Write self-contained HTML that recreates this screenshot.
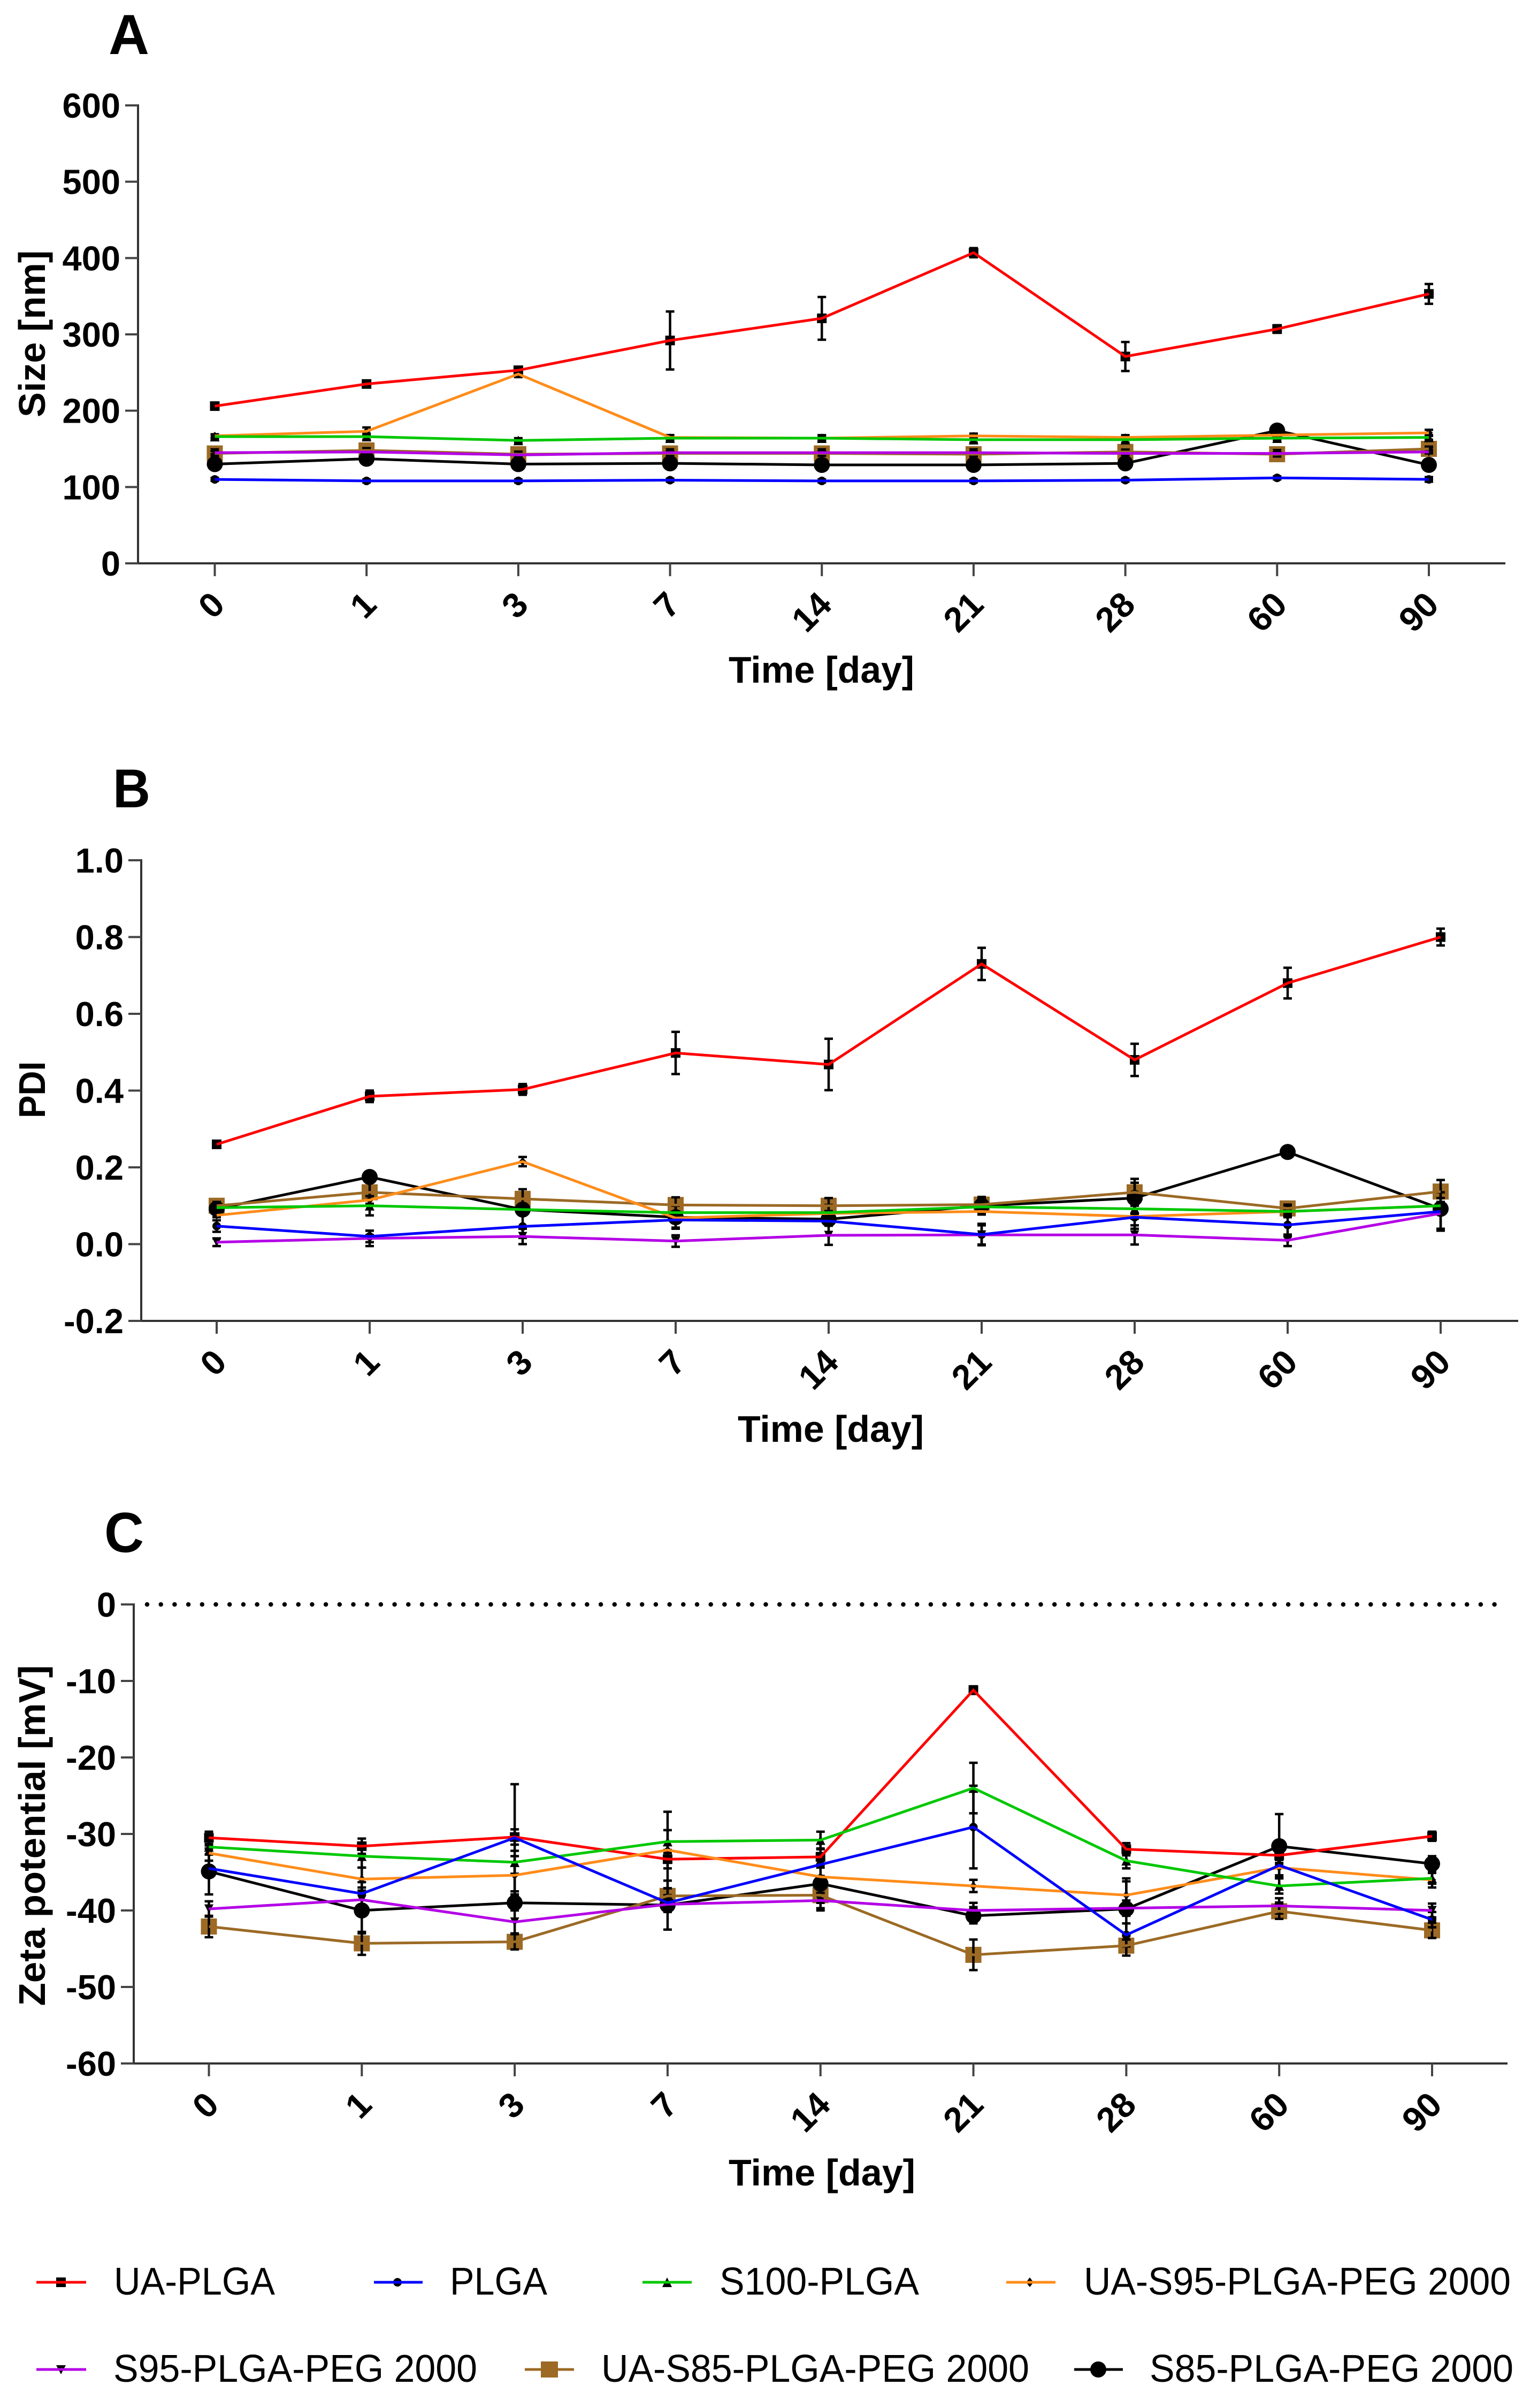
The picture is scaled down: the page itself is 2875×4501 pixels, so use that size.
<!DOCTYPE html>
<html lang="en">
<head>
<meta charset="utf-8">
<title>Nanoparticle stability over time</title>
<style>
html,body{margin:0;padding:0;background:#fff;}
svg{display:block;font-family:"Liberation Sans",Arial,sans-serif;}
</style>
</head>
<body>
<svg id="figure" xmlns="http://www.w3.org/2000/svg" width="2875" height="4501" viewBox="0 0 2875 4501">
  <rect x="0" y="0" width="2875" height="4501" fill="#fff"/>

  <text x="203" y="101" font-size="106" font-weight="700" textLength="76" lengthAdjust="spacingAndGlyphs">A</text>
  <text x="211" y="1509" font-size="102" font-weight="700" textLength="70" lengthAdjust="spacingAndGlyphs">B</text>
  <text x="195" y="2901" font-size="106" font-weight="700" textLength="74" lengthAdjust="spacingAndGlyphs">C</text>

  <text transform="translate(84,624) rotate(-90)" text-anchor="middle" font-size="70" font-weight="700" textLength="312" lengthAdjust="spacingAndGlyphs">Size [nm]</text>
  <text transform="translate(84,2037) rotate(-90)" text-anchor="middle" font-size="70" font-weight="700" textLength="106" lengthAdjust="spacingAndGlyphs">PDI</text>
  <text transform="translate(84,3431) rotate(-90)" text-anchor="middle" font-size="70" font-weight="700" textLength="637" lengthAdjust="spacingAndGlyphs">Zeta potential [mV]</text>

  <text x="1362" y="1276" font-size="70" font-weight="700" textLength="347" lengthAdjust="spacingAndGlyphs">Time [day]</text>
  <text x="1379" y="2695" font-size="70" font-weight="700" textLength="348" lengthAdjust="spacingAndGlyphs">Time [day]</text>
  <text x="1362" y="4085" font-size="70" font-weight="700" textLength="349" lengthAdjust="spacingAndGlyphs">Time [day]</text>

  <g id="plot-a"></g>
  <g id="plot-b"></g>
  <g id="plot-c"></g>

  <g font-size="72">
    <g>
      <rect x="105" y="4257" width="18" height="18" fill="#000"/>
      <line x1="68" y1="4266" x2="161" y2="4266" stroke="#ff0000" stroke-width="5"/>
      <text x="213" y="4289" textLength="301" lengthAdjust="spacingAndGlyphs">UA-PLGA</text>
    </g>
    <g>
      <circle cx="743" cy="4266" r="8" fill="#000"/>
      <line x1="699" y1="4266" x2="790" y2="4266" stroke="#0000ff" stroke-width="5"/>
      <text x="841" y="4289" textLength="182" lengthAdjust="spacingAndGlyphs">PLGA</text>
    </g>
    <g>
      <path d="M1247 4257L1256 4275L1238 4275Z" fill="#000"/>
      <line x1="1201" y1="4266" x2="1293" y2="4266" stroke="#00c800" stroke-width="5"/>
      <text x="1345" y="4289" textLength="373" lengthAdjust="spacingAndGlyphs">S100-PLGA</text>
    </g>
    <g>
      <path d="M1925 4257L1932 4266L1925 4275L1918 4266Z" fill="#000"/>
      <line x1="1881" y1="4266" x2="1973" y2="4266" stroke="#ff8c1a" stroke-width="5"/>
      <text x="2026" y="4289" textLength="798" lengthAdjust="spacingAndGlyphs">UA-S95-PLGA-PEG 2000</text>
    </g>
    <g>
      <path d="M105 4421L123 4421L114 4438Z" fill="#000"/>
      <line x1="68" y1="4429" x2="161" y2="4429" stroke="#b400e6" stroke-width="5"/>
      <text x="212" y="4452" textLength="680" lengthAdjust="spacingAndGlyphs">S95-PLGA-PEG 2000</text>
    </g>
    <g>
      <rect x="1011" y="4414" width="32" height="30" fill="#9c6a25"/>
      <line x1="981" y1="4429" x2="1073" y2="4429" stroke="#9c6a25" stroke-width="5"/>
      <text x="1124" y="4452" textLength="800" lengthAdjust="spacingAndGlyphs">UA-S85-PLGA-PEG 2000</text>
    </g>
    <g>
      <circle cx="2053" cy="4429" r="15" fill="#000"/>
      <line x1="2008" y1="4429" x2="2099" y2="4429" stroke="#000" stroke-width="5"/>
      <text x="2149" y="4452" textLength="680" lengthAdjust="spacingAndGlyphs">S85-PLGA-PEG 2000</text>
    </g>
  </g>
</svg>

<script>
/* Shared categories */
const days = ['0', '1', '3', '7', '14', '21', '28', '60', '90'];
const seriesNames = ['ua-plga', 'plga', 's100-plga', 'ua-s95-plga-peg', 's95-plga-peg', 'ua-s85-plga-peg', 's85-plga-peg'];

/* Panel A: size [nm] */
const sizeTicks = ['0', '100', '200', '300', '400', '500', '600'];
const sizeUaPlga = [206, 235, 253, 292, 321, 407, 271, 307, 353];
const sizeUaPlgaErr = [3, 4, 4, 38, 28, 6, 19, 5, 13];
const sizePlga = [110, 108, 108, 109, 108, 108, 109, 112, 110];
const sizePlgaErr = [2, 2, 2, 2, 2, 2, 2, 2, 3];
const sizeS100 = [166, 166, 161, 164, 164, 162, 162, 164, 165];
const sizeS100Err = [3, 4, 3, 4, 4, 4, 4, 3, 3];
const sizeUaS95 = [167, 173, 248, 165, 164, 167, 165, 168, 171];
const sizeUaS95Err = [2, 5, 4, 3, 3, 3, 3, 3, 4];
const sizeS95 = [145, 146, 142, 145, 145, 145, 144, 144, 146];
const sizeS95Err = [2, 2, 2, 2, 2, 2, 2, 2, 2];
const sizeUaS85 = [144, 148, 143, 144, 144, 143, 146, 143, 150];
const sizeUaS85Err = [3, 3, 3, 3, 3, 3, 3, 3, 3];
const sizeS85 = [130, 137, 130, 131, 129, 129, 131, 174, 129];
const sizeS85Err = [2, 2, 2, 2, 2, 2, 2, 2, 2];

/* Panel B: PDI */
const pdiTicks = ['-0.2', '0.0', '0.2', '0.4', '0.6', '0.8', '1.0'];
const pdiUaPlga = [0.26, 0.385, 0.403, 0.498, 0.468, 0.73, 0.48, 0.68, 0.80];
const pdiUaPlgaErr = [0.008, 0.015, 0.014, 0.055, 0.067, 0.042, 0.042, 0.04, 0.022];
const pdiPlga = [0.047, 0.02, 0.046, 0.063, 0.06, 0.025, 0.07, 0.05, 0.085];
const pdiPlgaErr = [0.015, 0.015, 0.03, 0.02, 0.012, 0.028, 0.03, 0.03, 0.05];
const pdiS100 = [0.095, 0.10, 0.09, 0.082, 0.082, 0.097, 0.092, 0.085, 0.10];
const pdiS100Err = [0.008, 0.025, 0.01, 0.02, 0.02, 0.02, 0.02, 0.015, 0.01];
const pdiUaS95 = [0.075, 0.115, 0.215, 0.068, 0.08, 0.085, 0.072, 0.085, 0.10];
const pdiUaS95Err = [0.005, 0.01, 0.012, 0.006, 0.006, 0.006, 0.006, 0.006, 0.006];
const pdiS95 = [0.005, 0.015, 0.02, 0.008, 0.023, 0.024, 0.024, 0.01, 0.08];
const pdiS95Err = [0.01, 0.02, 0.02, 0.015, 0.025, 0.025, 0.025, 0.015, 0.04];
const pdiUaS85 = [0.10, 0.135, 0.118, 0.102, 0.10, 0.103, 0.135, 0.093, 0.137];
const pdiUaS85Err = [0.01, 0.03, 0.025, 0.02, 0.02, 0.02, 0.035, 0.01, 0.03];
const pdiS85 = [0.092, 0.175, 0.09, 0.07, 0.065, 0.10, 0.12, 0.24, 0.092];
const pdiS85Err = [0.012, 0.006, 0.012, 0.03, 0.012, 0.012, 0.04, 0.006, 0.01];

/* Panel C: zeta potential [mV] */
const zetaTicks = ['-60', '-50', '-40', '-30', '-20', '-10', '0'];
const zetaUaPlga = [-30.5, -31.6, -30.4, -33.3, -33, -11.2, -32, -32.8, -30.3];
const zetaUaPlgaErr = [0.8, 1, 1, 1.2, 1, 0.5, 0.8, 1, 0.6];
const zetaPlga = [-34.5, -37.8, -30.5, -39, -34, -29.1, -43.2, -34.1, -41.2];
const zetaPlgaErr = [1, 1.5, 7, 1, 1.5, 5.4, 1.5, 1.5, 1];
const zetaS100 = [-31.7, -32.9, -33.7, -31, -30.8, -24, -33.5, -36.8, -35.8];
const zetaS100Err = [1, 1.5, 1.5, 1.5, 1.1, 3.3, 1, 1, 0.7];
const zetaUaS95 = [-32.5, -35.9, -35.4, -32.1, -35.6, -36.8, -38, -34.4, -36];
const zetaUaS95Err = [1, 1.5, 2.5, 5, 1.2, 0.8, 1.8, 1, 1];
const zetaS95 = [-39.8, -38.6, -41.5, -39.2, -38.7, -40, -39.7, -39.4, -40];
const zetaS95Err = [1, 1, 1.5, 1, 1, 1, 1, 1, 0.9];
const zetaUaS85 = [-42.1, -44.3, -44.1, -38.1, -38, -45.8, -44.6, -40.1, -42.6];
const zetaUaS85Err = [1.4, 1.5, 1, 1, 1, 2, 1.3, 1, 1];
const zetaS85 = [-34.9, -40, -39, -39.3, -36.5, -40.7, -39.8, -31.6, -33.9];
const zetaS85Err = [3, 3, 0.8, 3.2, 3.5, 1, 4, 4.2, 1];

const SVG_NS = 'http://www.w3.org/2000/svg';
const seriesStyle = {
  'ua-plga': { color: '#ff0000', shape: 'square', size: 18, mark: '#000' },
  'plga': { color: '#0000ff', shape: 'circle', size: 16, mark: '#000' },
  's100-plga': { color: '#00c800', shape: 'triangle', size: 18, mark: '#000' },
  'ua-s95-plga-peg': { color: '#ff8c1a', shape: 'diamond', size: 15, mark: '#000' },
  's95-plga-peg': { color: '#b400e6', shape: 'down-triangle', size: 17, mark: '#000' },
  'ua-s85-plga-peg': { color: '#9c6a25', shape: 'square', size: 30, mark: '#9c6a25' },
  's85-plga-peg': { color: '#000000', shape: 'circle', size: 30, mark: '#000' }
};
const markOrder = ['ua-s85-plga-peg', 's85-plga-peg', 's95-plga-peg', 'ua-s95-plga-peg', 'plga', 's100-plga', 'ua-plga'];
const lineOrder = ['s85-plga-peg', 'ua-s85-plga-peg', 'ua-plga', 'ua-s95-plga-peg', 's100-plga', 's95-plga-peg', 'plga'];

function make(tag, attrs, parent, text) {
  const node = document.createElementNS(SVG_NS, tag);
  for (const k in attrs) node.setAttribute(k, attrs[k]);
  if (text !== undefined) node.textContent = text;
  parent.appendChild(node);
  return node;
}

function makeMarker(parent, style, cx, cy) {
  const s = style.size / 2;
  if (style.shape === 'square') {
    return make('rect', { x: cx - s, y: cy - s, width: style.size, height: style.size, fill: style.mark }, parent);
  }
  if (style.shape === 'circle') {
    return make('circle', { cx: cx, cy: cy, r: s, fill: style.mark }, parent);
  }
  let pts;
  if (style.shape === 'triangle') pts = [[cx, cy - s], [cx + s, cy + s], [cx - s, cy + s]];
  else if (style.shape === 'down-triangle') pts = [[cx - s, cy - s], [cx + s, cy - s], [cx, cy + s]];
  else pts = [[cx, cy - s], [cx + s, cy], [cx, cy + s], [cx - s, cy]];
  return make('polygon', { points: pts.map(function (p) { return p.join(','); }).join(' '), fill: style.mark }, parent);
}

function drawPanel(cfg) {
  const root = document.getElementById(cfg.id);
  const yMin = parseFloat(cfg.ticks[0]);
  const yMax = parseFloat(cfg.ticks[cfg.ticks.length - 1]);
  const xScale = function (i) { return cfg.x0 + (cfg.x1 - cfg.x0) * i / (days.length - 1); };
  const yScale = function (v) { return cfg.yBottom + (cfg.yTop - cfg.yBottom) * (v - yMin) / (yMax - yMin); };

  const yAxis = make('line', { x1: cfg.axisLeft, x2: cfg.axisLeft, y1: cfg.yTop - 2, y2: cfg.yBottom + 2, stroke: '#333', 'stroke-width': 4 }, root);
  
  
  const xAxis = make('line', { x1: cfg.axisLeft, x2: cfg.axisRight, y1: cfg.yBottom, y2: cfg.yBottom, stroke: '#333', 'stroke-width': 4 }, root);
  
  

  cfg.ticks.forEach(function (label) {
    const y = yScale(parseFloat(label));
    const tick = make('line', { x1: cfg.axisLeft - 24, x2: cfg.axisLeft, y1: y, y2: y, stroke: '#444', 'stroke-width': 4 }, root);
    
    
    const text = make('text', { x: cfg.axisLeft - 33, y: y + 23, 'text-anchor': 'end', 'font-size': 65, 'font-weight': 700 }, root, label);
    
    
  });

  days.forEach(function (label, i) {
    const x = xScale(i);
    const tick = make('line', { x1: x, x2: x, y1: cfg.yBottom, y2: cfg.yBottom + 24, stroke: '#444', 'stroke-width': 4 }, root);
    
    
    const text = make('text', { transform: 'translate(' + (x + 6) + ',' + (cfg.yBottom + 65) + ') rotate(-45)', 'text-anchor': 'end', dy: '0.35em', 'font-size': 65, 'font-weight': 700 }, root, label);
    
    
  });

  if (cfg.zeroLine) {
    const zero = make('line', { x1: cfg.axisLeft + 25, x2: cfg.axisRight - 10, y1: yScale(0), y2: yScale(0), stroke: '#000', 'stroke-width': 8.5, 'stroke-linecap': 'round', 'stroke-dasharray': '0 25.7' }, root);
    
    
  }

  markOrder.forEach(function (name) {
    const idx = seriesNames.indexOf(name);
    const values = cfg.values[idx];
    const errors = cfg.errors[idx];
    const style = seriesStyle[name];
    const group = make('g', {}, root);
    
    
    values.forEach(function (v, i) {
      const x = xScale(i);
      const y = yScale(v);
      const marker = makeMarker(group, style, x, y);
      
      
      const top = yScale(v + errors[i]);
      const bottom = yScale(v - errors[i]);
      const bar = make('path', { d: 'M' + (x - 8) + ' ' + top + 'H' + (x + 8) + 'M' + x + ' ' + top + 'V' + bottom + 'M' + (x - 8) + ' ' + bottom + 'H' + (x + 8), stroke: '#000', 'stroke-width': 4.5, fill: 'none' }, group);
      
      
    });
  });

  lineOrder.forEach(function (name) {
    const idx = seriesNames.indexOf(name);
    const values = cfg.values[idx];
    const style = seriesStyle[name];
    const pts = values.map(function (v, i) { return xScale(i) + ',' + yScale(v); }).join(' ');
    const line = make('polyline', { points: pts, fill: 'none', stroke: style.color, 'stroke-width': 5, 'stroke-linejoin': 'miter' }, root);
    
    
  });
}

drawPanel({
  id: 'plot-a', ticks: sizeTicks, x0: 401.5, x1: 2671, axisLeft: 258, axisRight: 2814, yTop: 197, yBottom: 1053,
  values: [sizeUaPlga, sizePlga, sizeS100, sizeUaS95, sizeS95, sizeUaS85, sizeS85],
  errors: [sizeUaPlgaErr, sizePlgaErr, sizeS100Err, sizeUaS95Err, sizeS95Err, sizeUaS85Err, sizeS85Err]
});
drawPanel({
  id: 'plot-b', ticks: pdiTicks, x0: 405, x1: 2693, axisLeft: 264, axisRight: 2838, yTop: 1608, yBottom: 2469,
  values: [pdiUaPlga, pdiPlga, pdiS100, pdiUaS95, pdiS95, pdiUaS85, pdiS85],
  errors: [pdiUaPlgaErr, pdiPlgaErr, pdiS100Err, pdiUaS95Err, pdiS95Err, pdiUaS85Err, pdiS85Err]
});
drawPanel({
  id: 'plot-c', ticks: zetaTicks, x0: 390.5, x1: 2677, axisLeft: 250, axisRight: 2818, yTop: 2999, yBottom: 3857, zeroLine: true,
  values: [zetaUaPlga, zetaPlga, zetaS100, zetaUaS95, zetaS95, zetaUaS85, zetaS85],
  errors: [zetaUaPlgaErr, zetaPlgaErr, zetaS100Err, zetaUaS95Err, zetaS95Err, zetaUaS85Err, zetaS85Err]
});
</script>
</body>
</html>
